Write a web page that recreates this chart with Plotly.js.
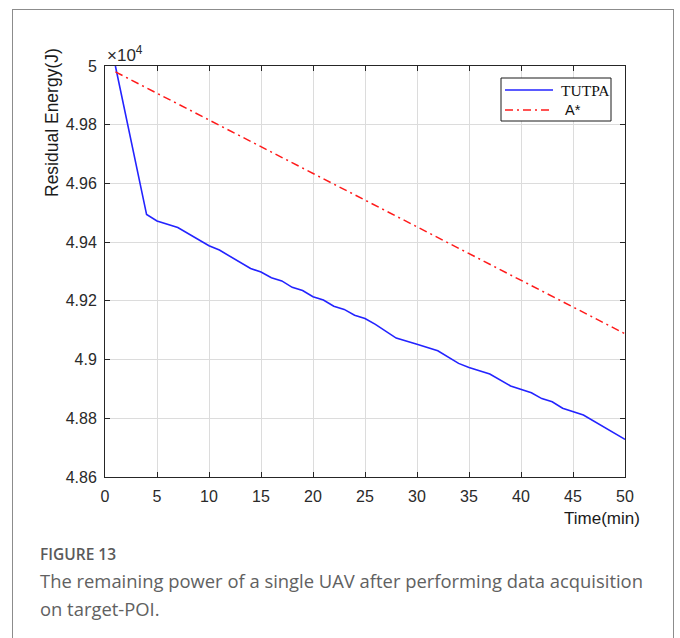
<!DOCTYPE html>
<html>
<head>
<meta charset="utf-8">
<script src="https://cdn.plot.ly/plotly-3.0.1.min.js"></script>
<style>
  html, body { margin: 0; padding: 0; background: #fff; width: 680px; height: 638px; overflow: hidden; }
  #frame { position: absolute; left: 12px; top: 9px; width: 662px; height: 720px; border: 1.5px solid #8c8c8c; box-sizing: border-box; }
  #chart { position: absolute; left: 0; top: 0; width: 680px; height: 638px; }
  #fig { position: absolute; left: 40px; top: 543px; font-family: "Open Sans", sans-serif; font-size: 15.5px; font-weight: 600; color: #5a5a5a; }
  #cap { position: absolute; left: 40px; top: 567px; font-family: "Open Sans", sans-serif; font-size: 18.4px; line-height: 28px; color: #616161; white-space: nowrap; }
</style>
</head>
<body>
<div id="frame"></div>
<div id="chart"></div>
<div id="fig">FIGURE 13</div>
<div id="cap">The remaining power of a single UAV after performing data acquisition<br>on target-POI.</div>
<script>
// Time (min)
var tutpaTime = [1, 4, 5, 7, 10, 11, 14, 15, 16, 17, 18, 19, 20, 21, 22, 23, 24, 25, 26, 27, 28, 30, 32, 34, 35, 37, 39, 41, 42, 43, 44, 46, 50];
// Residual energy (x10^4 J)
var tutpaEnergy = [5.0000, 4.9494, 4.9472, 4.9450, 4.9388, 4.9373, 4.9310, 4.9298, 4.9279, 4.9268, 4.9246, 4.9235, 4.9214, 4.9203, 4.9182, 4.9171, 4.9151, 4.9140, 4.9120, 4.9095, 4.9073, 4.9052, 4.9030, 4.8987, 4.8973, 4.8951, 4.8910, 4.8887, 4.8867, 4.8856, 4.8834, 4.8811, 4.8728];
var astarTime = [1, 50];
var astarEnergy = [4.9980, 4.9088];

var seriesNames = ["TUTPA", "A*"];
var xTickVals = [0, 5, 10, 15, 20, 25, 30, 35, 40, 45, 50];
var yTickVals = [4.86, 4.88, 4.9, 4.92, 4.94, 4.96, 4.98, 5];
var yTickText = ["4.86", "4.88", "4.9", "4.92", "4.94", "4.96", "4.98", "5"];

var tickFont = { family: "Liberation Sans, Arial, sans-serif", size: 16, color: "#2a2a2a" };

var traces = [
  { x: tutpaTime, y: tutpaEnergy, type: "scatter", mode: "lines", name: seriesNames[0],
    line: { color: "#2323ff", width: 1.6 }, showlegend: false },
  { x: astarTime, y: astarEnergy, type: "scatter", mode: "lines", name: seriesNames[1],
    line: { color: "#ff1a1a", width: 1.5, dash: "8px,4px,2px,4px" }, showlegend: false }
];

var plotL = 105, plotR = 625, plotT = 66, plotB = 477;
function px(x) { return (x - plotL) / (plotR - plotL); }
function py(y) { return (plotB - y) / (plotB - plotT); }

var layout = {
  width: 680, height: 638,
  margin: { l: plotL, r: 680 - plotR, t: plotT, b: 638 - plotB },
  paper_bgcolor: "rgba(0,0,0,0)", plot_bgcolor: "#fff",
  xaxis: {
    range: [0, 50], tickvals: xTickVals, ticks: "inside", ticklen: 5, tickcolor: "#262626",
    showline: true, linecolor: "#262626", linewidth: 1, mirror: "ticks",
    showgrid: true, gridcolor: "#dcdcdc", gridwidth: 1, zeroline: false,
    tickfont: tickFont, ticklabelstandoff: 5, fixedrange: true
  },
  yaxis: {
    range: [4.86, 5], tickvals: yTickVals, ticktext: yTickText, ticks: "inside", ticklen: 5, tickcolor: "#262626",
    showline: true, linecolor: "#262626", linewidth: 1, mirror: "ticks",
    showgrid: true, gridcolor: "#dcdcdc", gridwidth: 1, zeroline: false,
    tickfont: tickFont, ticklabelstandoff: 4, fixedrange: true
  },
  shapes: [
    { type: "rect", xref: "paper", yref: "paper", x0: px(501), x1: px(611), y0: py(121), y1: py(78),
      line: { color: "#1a1a1a", width: 1 }, fillcolor: "#fff" },
    { type: "line", xref: "paper", yref: "paper", x0: px(505), x1: px(553), y0: py(90), y1: py(90),
      line: { color: "#2323ff", width: 1.6 } },
    { type: "line", xref: "paper", yref: "paper", x0: px(505), x1: px(553), y0: py(110), y1: py(110),
      line: { color: "#ff1a1a", width: 1.5, dash: "8px,4px,2px,4px" } }
  ],
  annotations: [
    { text: seriesNames[0], xref: "paper", yref: "paper", x: px(559), y: py(90), xanchor: "left", yanchor: "middle",
      showarrow: false, font: { family: "Liberation Serif, Times New Roman, serif", size: 15.5, color: "#111" } },
    { text: seriesNames[1], xref: "paper", yref: "paper", x: px(563), y: py(110), xanchor: "left", yanchor: "middle",
      showarrow: false, font: { family: "Liberation Sans, Arial, sans-serif", size: 14.5, color: "#111" } },
    { text: "Residual Energy(J)", xref: "paper", yref: "paper", x: px(52), y: py(123), xanchor: "center", yanchor: "middle",
      textangle: -90, showarrow: false, font: { family: "Liberation Sans, Arial, sans-serif", size: 17.5, color: "#1a1a1a" } },
    { text: "Time(min)", xref: "paper", yref: "paper", x: px(642), y: py(518), xanchor: "right", yanchor: "middle",
      showarrow: false, font: { family: "Liberation Sans, Arial, sans-serif", size: 17, color: "#1a1a1a" } },
    { text: "\u00d710<sup>4</sup>", xref: "paper", yref: "paper", x: px(105), y: py(67), xanchor: "left", yanchor: "bottom",
      showarrow: false, font: { family: "Liberation Sans, Arial, sans-serif", size: 17, color: "#2a2a2a" } }
  ]
};

Plotly.newPlot("chart", traces, layout, { displayModeBar: false, staticPlot: true });
</script>
</body>
</html>
